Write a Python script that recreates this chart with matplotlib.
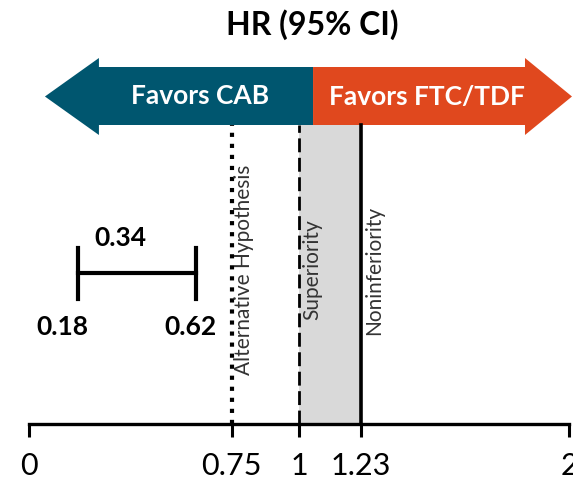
"""
Forest-style HR plot: CAB vs FTC/TDF
"""
import matplotlib.pyplot as plt
from matplotlib.patches import Polygon

plt.rcParams['font.family'] = ['Lato', 'DejaVu Sans']

# data
hr_point = 0.34
hr_low = 0.18
hr_high = 0.62
ref_values = [0.75, 1.0, 1.23]
ref_labels = ['Alternative Hypothesis', 'Superiority', 'Noninferiority']
ref_styles = [':', (0, (5, 2)), '-']
tick_values = [0, 0.75, 1, 1.23, 2]
tick_labels = ['0', '0.75', '1', '1.23', '2']
arrow_labels = ['Favors CAB', 'Favors FTC/TDF']
arrow_colors = ['#00566F', '#E0481E']

fig = plt.figure(figsize=(5.73, 4.8), dpi=100)
ax = fig.add_axes([29 / 573, 56 / 480, 540 / 573, 424 / 480])
ax.set_xlim(0, 2)
ax.set_ylim(0, 424)

for s in ['top', 'left', 'right']:
    ax.spines[s].set_visible(False)
ax.spines['bottom'].set_linewidth(2.4)
ax.set_yticks([])
ax.set_xticks(tick_values, tick_labels)
ax.tick_params(axis='x', direction='out', length=9, width=2.2, pad=11, labelsize=22)

# shaded region between superiority and noninferiority
ax.fill_between([ref_values[1], ref_values[2]], 0, 299, color='#D9D9D9', lw=0, zorder=0)

# reference lines + labels
for v, lab, ls in zip(ref_values, ref_labels, ref_styles):
    lw = 3 if ls == ':' else (2 if ls != '-' else 2.6)
    ax.plot([v, v], [0, 299], color='black', ls=ls, lw=lw, zorder=2)
    ax.annotate(lab, (v, 154), xytext=(13, 0), textcoords='offset pixels',
                rotation=90, ha='center', va='center', fontsize=15, color='#333333')

# direction arrows
mid = 1.052
y0, y1, h0, h1, yc = 299, 357, 289, 366, 327.5
left = Polygon([(0.059, yc), (0.259, h1), (0.259, y1), (mid, y1), (mid, y0),
                (0.259, y0), (0.259, h0)], closed=True, color=arrow_colors[0], lw=0, clip_on=False)
right = Polygon([(mid, y0), (mid, y1), (1.837, y1), (1.837, h1), (2.011, yc),
                 (1.837, h0), (1.837, y0)], closed=True, color=arrow_colors[1], lw=0, clip_on=False)
ax.add_patch(left)
ax.add_patch(right)
ax.text(0.633, yc, arrow_labels[0], color='white', fontsize=19, fontweight='bold',
        ha='center', va='center')
ax.text(1.474, yc, arrow_labels[1], color='white', fontsize=19, fontweight='bold',
        ha='center', va='center')

# HR and CI
ax.plot([hr_low, hr_high], [151, 151], color='black', lw=3)
ax.plot([hr_low, hr_low], [125, 176], color='black', lw=3)
ax.plot([hr_high, hr_high], [125, 176], color='black', lw=3)
ax.text(hr_point, 186, f'{hr_point:.2f}', fontsize=19, fontweight='bold', ha='center', va='center')
ax.annotate(f'{hr_low:.2f}', (hr_low, 97), xytext=(-15, 0), textcoords='offset pixels',
            fontsize=19, fontweight='bold', ha='center', va='center')
ax.annotate(f'{hr_high:.2f}', (hr_high, 97), xytext=(-6, 0), textcoords='offset pixels',
            fontsize=19, fontweight='bold', ha='center', va='center')

fig.text(312 / 573, 1 - 25 / 480, 'HR (95% CI)', fontsize=23, fontweight='bold',
         ha='center', va='center')

plt.savefig('out.png', dpi=100)
